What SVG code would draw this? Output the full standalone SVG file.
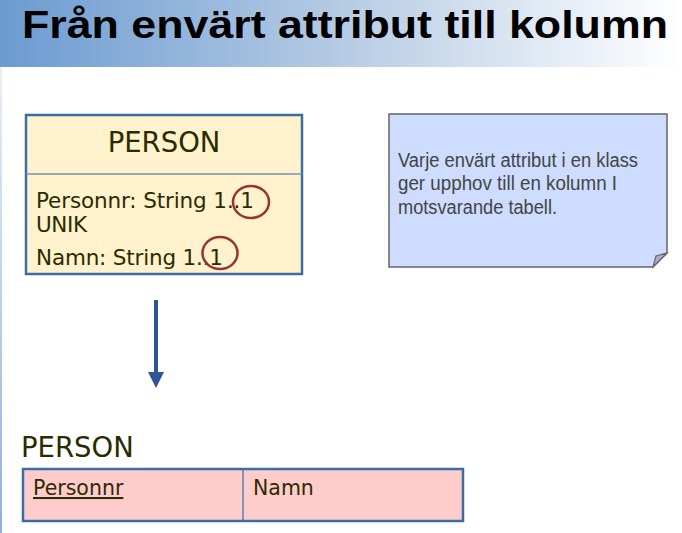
<svg xmlns="http://www.w3.org/2000/svg" width="682" height="533" viewBox="0 0 682 533">
<defs>
<linearGradient id="tg" x1="0" y1="0" x2="1" y2="0">
<stop offset="0" stop-color="#6b9bd1"/>
<stop offset="0.5" stop-color="#b6cbe4"/>
<stop offset="1" stop-color="#ffffff"/>
</linearGradient>
<linearGradient id="lg" x1="0" y1="0" x2="0" y2="1">
<stop offset="0" stop-color="#8fb0dc" stop-opacity="0.2"/>
<stop offset="1" stop-color="#8fb0dc" stop-opacity="1"/>
</linearGradient>
<marker id="ah" markerWidth="4" markerHeight="4" refX="0" refY="2" orient="auto" markerUnits="strokeWidth">
<path d="M0,0 L4,2 L0,4 z" fill="#2f5597"/>
</marker>
</defs>
<style>
.cls{font-family:"DejaVu Sans",Verdana,sans-serif;fill:#2b2b00}
.note{font-family:"Liberation Sans",Arial,sans-serif;fill:#444444;font-size:20px}
.circ{fill:none;stroke:#993333;stroke-width:2.5}
</style>
<rect width="682" height="533" fill="#ffffff"/>
<rect x="0" y="0" width="682" height="67" fill="url(#tg)"/>
<rect x="0" y="67" width="2" height="466" fill="url(#lg)"/>
<text x="22" y="38" font-family="Liberation Sans,Arial,sans-serif" font-weight="bold" font-size="38" fill="#000000" textLength="646" lengthAdjust="spacingAndGlyphs">Från envärt attribut till kolumn</text>

<g id="class-person">
<rect x="26" y="115" width="276" height="159" fill="#fff2cc" stroke="#3a6ea5" stroke-width="2.5"/>
<line x1="26" y1="174" x2="302" y2="174" stroke="#6f93b8" stroke-width="1.5"/>
<text class="cls" x="164" y="152" font-size="27.5" text-anchor="middle">PERSON</text>
<text class="cls" x="36" y="208" font-size="21.5" textLength="218">Personnr: String 1..1</text>
<text class="cls" x="36" y="232" font-size="21.5" textLength="51">UNIK</text>
<text class="cls" x="36" y="265" font-size="21.5" textLength="187">Namn: String 1..1</text>
<ellipse class="circ" cx="251" cy="202" rx="18" ry="16"/>
<ellipse class="circ" cx="220" cy="253" rx="17.5" ry="16"/>
</g>

<g id="note">
<path d="M389,114 L667,114 L667,253 L653,267 L389,267 Z" fill="#cddcff" stroke="#666666" stroke-width="1.5"/>
<path d="M653,267 L656,256 L667,253 Z" fill="#a4b0cc" stroke="#666666" stroke-width="1.2"/>
<text class="note" x="398" y="167" textLength="240" lengthAdjust="spacingAndGlyphs">Varje envärt attribut i en klass</text>
<text class="note" x="398" y="190" textLength="219" lengthAdjust="spacingAndGlyphs">ger upphov till en kolumn I</text>
<text class="note" x="398" y="214" textLength="159" lengthAdjust="spacingAndGlyphs">motsvarande tabell.</text>
</g>

<g id="connectors">
<line x1="156" y1="300" x2="156" y2="372" stroke="#2f5597" stroke-width="4" marker-end="url(#ah)"/>
</g>

<g id="table-person">
<text class="cls" x="21" y="457" font-size="27.5">PERSON</text>
<rect x="23" y="469" width="440" height="52" fill="#ffcccc" stroke="#3a6ea5" stroke-width="2.5"/>
<line x1="243" y1="469" x2="243" y2="521" stroke="#3a6ea5" stroke-width="1.2"/>
<text class="cls" x="33" y="495" font-size="20.5" text-decoration="underline">Personnr</text>
<text class="cls" x="253" y="495" font-size="20.5">Namn</text>
</g>
</svg>
